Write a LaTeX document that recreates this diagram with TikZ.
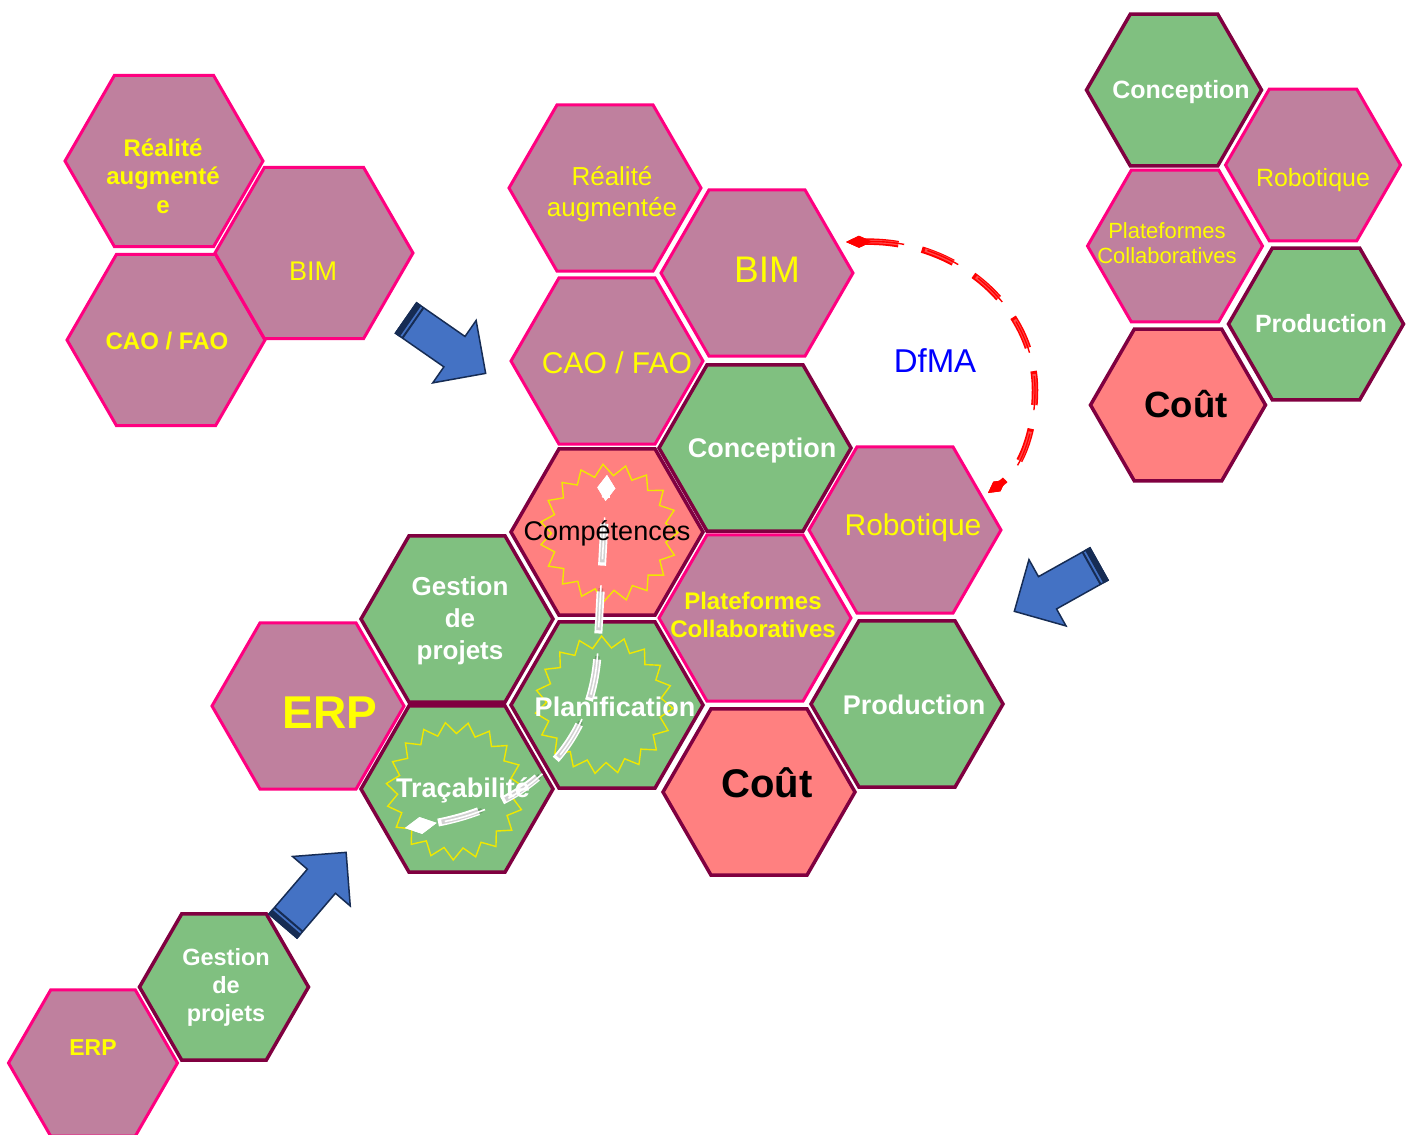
\documentclass[tikz,border=0pt]{standalone}
\usepackage{fontspec}
\setmainfont{Liberation Sans}
\usetikzlibrary{shapes.geometric,arrows.meta}

\definecolor{mauve}{RGB}{191,128,158}
\definecolor{pinkb}{RGB}{255,0,128}
\definecolor{greenf}{RGB}{128,192,128}
\definecolor{maroon}{RGB}{128,0,64}
\definecolor{salmon}{RGB}{255,128,128}
\definecolor{ytext}{RGB}{255,255,0}
\definecolor{arrowblue}{RGB}{68,114,196}
\definecolor{arrowdark}{RGB}{22,44,84}
\definecolor{dfmablue}{RGB}{0,0,255}
\definecolor{starline}{RGB}{240,232,0}
\definecolor{dfmared}{RGB}{255,0,0}

\newcommand\fsz[2]{\fontsize{#1}{#2}\selectfont}

\tikzset{
  hexbase/.style={regular polygon, regular polygon sides=6, inner sep=0pt, outer sep=0pt, line join=miter},
  hexM/.style={hexbase, fill=mauve, draw=pinkb, line width=3pt},
  hexG/.style={hexbase, fill=greenf, draw=maroon, line width=3.5pt},
  hexR/.style={hexbase, fill=salmon, draw=maroon, line width=3.5pt},
  hexC/.style={minimum size=192pt},
  hexL/.style={minimum size=198pt},
  hexRt/.style={minimum size=175pt},
  hexB/.style={minimum size=169pt},
  lbl/.style={align=center, inner sep=0pt},
  lblY/.style={lbl, text=ytext},
  lblW/.style={lbl, text=white},
  lblK/.style={lbl, text=black},
  starburst/.style={star, star points=19, star point ratio=1.2, minimum size=138pt,
    inner sep=0pt, draw=starline, line width=1.4pt, line join=miter},
  wline/.style={white, line width=8pt, dash pattern=on 42pt off 26pt, dash phase=58pt,
    {Diamond[length=32pt,width=17pt,color=white]}-{Diamond[length=26pt,width=18pt,color=white]}},
  wgap/.style={wline, draw=black, draw opacity=0.18, line width=4.6pt},
  wmid/.style={wline, line width=1.6pt},
  rline/.style={dfmared, line width=6.5pt, dash pattern=on 34pt off 24pt,
    {Diamond[length=26pt,width=12pt,color=dfmared]}-{Diamond[length=22pt,width=12pt,color=dfmared]}},
  rgap/.style={rline, draw=white, draw opacity=0.3, line width=3.4pt},
  rmid/.style={rline, line width=1.4pt},
  pics/blockarrow/.style={code={
    \draw[arrowdark, line width=1.5pt, fill=arrowblue, line join=miter]
      (0,-18.5) -- (59,-18.5) -- (59,-38) -- (97,0) -- (59,38) -- (59,18.5) -- (0,18.5) -- cycle;
    \fill[arrowdark] (-0.75,-19.2) rectangle (5.5,19.2);
    \fill[arrowdark] (7.5,-18.5) rectangle (9.5,18.5);
  }},
}

\begin{document}
\begin{tikzpicture}[x=1pt,y=-1pt]
\clip (0,0) rectangle (1414,1135);
\fill[white] (0,0) rectangle (1414,1135);

% ---- upper left cluster ----
\node[hexM, hexL] (lRA) at (164,161) {};
\node[hexM, hexL] (lCAO) at (166,340) {};
\node[hexM, hexL] (lBIM) at (314,253) {};
\node[lblY, font=\bfseries\fsz{24}{28.5}] (tlRA) at (163,176) {Réalité\\augmenté\\e};
\node[lblY, font=\fsz{27}{30}] (tlBIM) at (313,271) {BIM};
\node[lblY, font=\bfseries\fsz{24}{28}] (tlCAO) at (167,341) {CAO / FAO};

% ---- central cluster ----
\node[hexG, hexC] (cConc) at (755,448) {};
\node[hexR, hexC] (cComp) at (607,532) {};
\node[hexG, hexC] (cProd) at (907,704) {};
\node[hexR, hexC] (cCout) at (759,792) {};
\node[hexG, hexC] (cPlan) at (607,705) {};
\node[hexG, hexC] (cTrac) at (457,789) {};
\node[hexG, hexC] (cGest) at (457,619) {};
\node[hexM, hexC] (cRA) at (605,188) {};
\node[hexM, hexC] (cBIM) at (757,273) {};
\node[hexM, hexC] (cCAO) at (607,361) {};
\node[hexM, hexC] (cRob) at (905,530) {};
\node[hexM, hexC] (cPlat) at (755,618) {};
\node[hexM, hexC] (cERP) at (308,706) {};

% starbursts
\node[starburst, rotate=5] (sComp) at (609,533) {};
\node[starburst, rotate=2] (sPlan) at (604,705) {};
\node[starburst, rotate=8] (sTrac) at (455,791) {};

% white path through the three starbursts
\coordinate (wStart) at (405,828);
\coordinate (wEnd) at (607,475);
\draw[wline] (wStart) .. controls (530,808) and (598,742) .. (598,640) -- (wEnd);
\draw[wgap] (wStart) .. controls (530,808) and (598,742) .. (598,640) -- (wEnd);
\draw[wmid] (wStart) .. controls (530,808) and (598,742) .. (598,640) -- (wEnd);

\node[lblY, font=\fsz{26}{31}] (tcRA) at (612,194) {Réalité\\augmentée};
\node[lblY, font=\fsz{37}{40}] (tcBIM) at (767,270) {BIM};
\node[lblY, font=\fsz{30}{33}] (tcCAO) at (617,363) {CAO / FAO};
\node[lblW, font=\bfseries\fsz{27}{30}] (tcConc) at (762,451) {Conception};
\node[lblK, font=\fsz{27}{30}] (tcComp) at (607,533) {Compétences};
\node[lblY, font=\fsz{30}{33}] (tcRob) at (913,528) {Robotique};
\node[lblY, font=\bfseries\fsz{24}{28}] (tcPlat) at (753,615) {Plateformes\\Collaboratives};
\node[lblW, font=\bfseries\fsz{27}{30}] (tcProd) at (914,705) {Production};
\node[lblK, font=\bfseries\fsz{40}{44}] (tcCout) at (767,783) {Coût};
\node[lblW, font=\bfseries\fsz{27}{30}] (tcPlan) at (615,707) {Planification};
\node[lblW, font=\bfseries\fsz{27}{30}] (tcTrac) at (463,790) {Traçabilité};
\node[lblW, font=\bfseries\fsz{26}{32}] (tcGest) at (460,621) {Gestion\\de\\projets};
\node[lblY, font=\bfseries\fsz{46}{50}] (tcERP) at (330,713) {ERP};

% DfMA loop
\node[font=\fsz{33}{36}, text=dfmablue, inner sep=0pt] (dfma) at (935,361) {DfMA};
\coordinate (rStart) at (846,242);
\coordinate (rEnd) at (988,493);
\draw[rline] (rStart) .. controls (960,240) and (1035,310) .. (1035,390) .. controls (1035,430) and (1022,468) .. (rEnd);
\draw[rgap] (rStart) .. controls (960,240) and (1035,310) .. (1035,390) .. controls (1035,430) and (1022,468) .. (rEnd);
\draw[rmid] (rStart) .. controls (960,240) and (1035,310) .. (1035,390) .. controls (1035,430) and (1022,468) .. (rEnd);

% ---- upper right cluster ----
\node[hexG, hexRt] (rConc) at (1174,90) {};
\node[hexR, hexRt] (rCout) at (1178,405) {};
\node[hexG, hexRt] (rProd) at (1316,324) {};
\node[hexM, hexRt] (rRob) at (1313,165) {};
\node[hexM, hexRt] (rPlat) at (1175,246) {};
\node[lblW, font=\bfseries\fsz{25}{28}] (trConc) at (1181,92) {Conception};
\node[lblY, font=\fsz{25}{28}] (trRob) at (1313,180) {Robotique};
\node[lblY, font=\fsz{22}{25}] (trPlat) at (1167,243) {Plateformes\\Collaboratives};
\node[lblW, font=\bfseries\fsz{25}{28}] (trProd) at (1321,324) {Production};
\node[lblK, font=\bfseries\fsz{36.5}{40}] (trCout) at (1186,404) {Coût};

% ---- lower left pair ----
\node[hexG, hexB] (bGest) at (224,987) {};
\node[hexM, hexB] (bERP) at (93,1063) {};
\node[lblW, font=\bfseries\fsz{23.5}{28}] (tbGest) at (226,987) {Gestion\\de\\projets};
\node[lblY, font=\bfseries\fsz{23}{26}] (tbERP) at (93,1048) {ERP};

% ---- block arrows ----
\pic[rotate=-34.8] (arrA) at (406,318) {blockarrow};
\pic[rotate=-150.8] (arrB) at (1099,564) {blockarrow};
\pic[rotate=49.4] (arrC) at (283,926) {blockarrow};
\end{tikzpicture}
\end{document}
